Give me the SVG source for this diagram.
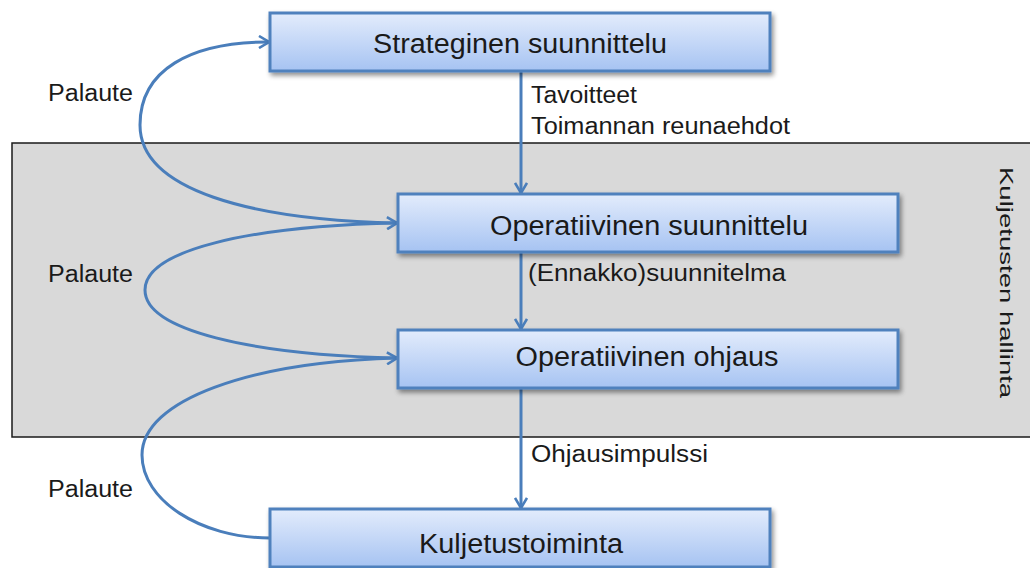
<svg xmlns="http://www.w3.org/2000/svg" width="1030" height="568" viewBox="0 0 1030 568">
<defs>
<linearGradient id="bg" x1="0" y1="0" x2="0" y2="1">
<stop offset="0" stop-color="#e3ecfc"/>
<stop offset="1" stop-color="#a6c3f2"/>
</linearGradient>
<filter id="sh" x="-5%" y="-20%" width="110%" height="150%">
<feGaussianBlur in="SourceAlpha" stdDeviation="2.5"/>
<feOffset dx="2" dy="3" result="b"/>
<feComponentTransfer><feFuncA type="linear" slope="0.45"/></feComponentTransfer>
<feMerge><feMergeNode/><feMergeNode in="SourceGraphic"/></feMerge>
</filter>
<marker id="ar" viewBox="0 0 12 14" refX="11" refY="7" markerWidth="12" markerHeight="14" markerUnits="userSpaceOnUse" orient="auto">
<path d="M1,1 L11,7 L1,13" fill="none" stroke="#4a7ebb" stroke-width="2.6"/>
</marker>
</defs>
<style>
.box{fill:url(#bg);stroke:#4f81bd;stroke-width:3;filter:url(#sh)}
.bt{font-family:"Liberation Sans",Arial,sans-serif;font-size:27px;fill:#1a1a1a;text-anchor:middle}
.lb{font-family:"Liberation Sans",Arial,sans-serif;font-size:23px;fill:#1a1a1a}
.cn{fill:none;stroke:#4a7ebb;stroke-width:3;marker-end:url(#ar)}
</style>
<rect x="12" y="143" width="1030" height="294" fill="#d9d9d9" stroke="#1a1a1a" stroke-width="1.5"/>
<text class="lb" transform="translate(1000,167) rotate(90) scale(1.45,1)" style="font-size:19px">Kuljetusten hallinta</text>
<g id="connectors">
<path class="cn" d="M521,72 L521,193"/>
<path class="cn" d="M521,252 L521,329"/>
<path class="cn" d="M521,388 L521,508"/>
<path class="cn" d="M398,223 C250,220 140,190 140,125 C140,70 190,42 269,42"/>
<path class="cn" d="M398,358 C250,355 145,330 145,290 C145,250 250,226 397,223"/>
<path class="cn" d="M270,538 C200,538 142,500 142,455 C142,400 250,362 397,358"/>
</g>
<g id="strateginen"><rect class="box" x="270" y="13" width="500" height="58"/><text class="bt" x="520" y="53" textLength="294" lengthAdjust="spacingAndGlyphs">Strateginen suunnittelu</text></g>
<g id="op-suunnittelu"><rect class="box" x="398" y="194" width="500" height="58"/><text class="bt" x="649" y="235" textLength="318" lengthAdjust="spacingAndGlyphs">Operatiivinen suunnittelu</text></g>
<g id="op-ohjaus"><rect class="box" x="398" y="330" width="500" height="58"/><text class="bt" x="647" y="366" textLength="263" lengthAdjust="spacingAndGlyphs">Operatiivinen ohjaus</text></g>
<g id="kuljetustoiminta"><rect class="box" x="270" y="509" width="500" height="58"/><text class="bt" x="521" y="553" textLength="204" lengthAdjust="spacingAndGlyphs">Kuljetustoiminta</text></g>
<g id="labels">
<text class="lb" x="531" y="103" textLength="106" lengthAdjust="spacingAndGlyphs">Tavoitteet</text>
<text class="lb" x="531" y="134" textLength="259" lengthAdjust="spacingAndGlyphs">Toimannan reunaehdot</text>
<text class="lb" x="528" y="281" textLength="258" lengthAdjust="spacingAndGlyphs">(Ennakko)suunnitelma</text>
<text class="lb" x="531" y="462" textLength="177" lengthAdjust="spacingAndGlyphs">Ohjausimpulssi</text>
<text class="lb" x="48" y="101" textLength="85" lengthAdjust="spacingAndGlyphs">Palaute</text>
<text class="lb" x="48" y="282" textLength="85" lengthAdjust="spacingAndGlyphs">Palaute</text>
<text class="lb" x="48" y="497" textLength="85" lengthAdjust="spacingAndGlyphs">Palaute</text>
</g>
</svg>
